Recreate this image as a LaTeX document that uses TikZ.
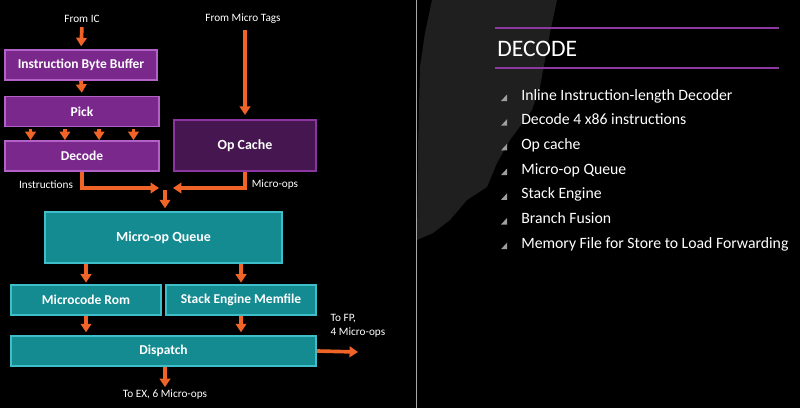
\documentclass[tikz,border=0pt]{standalone}
\usepackage{fontspec}
\setmainfont{Carlito}
\usetikzlibrary{arrows.meta,positioning,calc}
\definecolor{pfill}{RGB}{122,40,140}
\definecolor{pline}{RGB}{178,98,198}
\definecolor{cfill}{RGB}{70,22,80}
\definecolor{cline}{RGB}{140,52,160}
\definecolor{tfill}{RGB}{20,138,145}
\definecolor{tline}{RGB}{62,190,200}
\definecolor{amdorange}{RGB}{240,100,40}
\definecolor{swoosh}{RGB}{31,31,31}
\definecolor{rule}{RGB}{140,56,158}

\begin{document}
\begin{tikzpicture}[
		x=0.025cm, y=-0.025cm,
		>={Triangle[width=7.5pt,length=6pt]},
		box/.style={draw, line width=1.3pt, text=white, inner sep=0pt,
			font=\bfseries\fontsize{9.6}{11}\selectfont},
		pbox/.style={box, fill=pfill, draw=pline, minimum width=3.85cm, minimum height=0.75cm},
		cbox/.style={box, fill=cfill, draw=cline, font=\bfseries\fontsize{9.9}{12}\selectfont},
		tbox/.style={box, fill=tfill, draw=tline, minimum height=0.75cm},
		lbl/.style={text=white, inner sep=1pt, font=\fontsize{8}{9.5}\selectfont},
		arr/.style={->, draw=amdorange, line width=2.6pt},
		item/.style={text=white, anchor=base west, inner sep=0pt, font=\fontsize{11.2}{13}\selectfont}
		]
		
		% background
		\fill[black] (0,0) rectangle (800,408);
		\useasboundingbox (0,0) rectangle (800,408);
		\fill[swoosh] (432,0) -- (557,0) -- (550,33) -- (540,87) -- (532,110) -- (510,140)
			-- (497,163) -- (487,187) -- (467,200) -- (450,220) -- (433,233) -- (417,240)
			-- (418,150) -- (420,67) -- (425,33) -- cycle;
		\draw[gray!70, line width=0.7pt] (416,0) -- (416,408);
		
		% -------------------------
		% Front end (purple)
		% -------------------------
		\node[lbl] (fromIC) at (82,19) {From IC};
		\node[lbl] (fromTags) at (243,19) {From Micro Tags};
		
		\node[pbox, minimum width=3.8cm] (IBB) at (81,65) {Instruction Byte Buffer};
		\node[pbox] (Pick) at (82,111.5) {Pick};
		\node[pbox] (Decode) at (82,156) {Decode};
		\node[cbox, minimum width=3.55cm, minimum height=1.275cm] (OpCache) at (245,145.5) {Op Cache};
		
		\node[lbl] (instr) at (46,185) {Instructions};
		\node[lbl] (uops) at (275,185) {Micro-ops};
		\coordinate (merge) at (165,188);
		
		% -------------------------
		% Back end (teal)
		% -------------------------
		\node[tbox, minimum width=5.925cm, minimum height=1.275cm,
			font=\bfseries\fontsize{9.9}{12}\selectfont] (Queue) at (163.5,237.5) {Micro-op Queue};
		\node[tbox, minimum width=3.75cm] (MRom) at (86,300) {Microcode Rom};
		\node[tbox, minimum width=3.75cm] (SEM) at (241,300) {Stack Engine Memfile};
		\node[tbox, minimum width=7.625cm] (Dispatch) at (163.5,351) {Dispatch};
		
		\node[lbl] (toEX) at (165,395) {To EX, 6 Micro-ops};
		\node[lbl, align=left, anchor=north west] (toFP) at (329,313) {To FP,\\4 Micro-ops};
		\coordinate (fpEnd) at (358,352);
		
		% -------------------------
		% Arrows
		% -------------------------
		\draw[arr, shorten <=2pt, shorten >=2pt] (fromIC.south) -- (IBB.north);
		\draw[arr, shorten >=2pt] (IBB.south) -- (Pick.north);
		\foreach \f in {0.17,0.39,0.61,0.83}
			\draw[arr, shorten <=1pt] ($(Pick.south west)!\f!(Pick.south east)$) -- ($(Decode.north west)!\f!(Decode.north east)$);
		\draw[arr, shorten <=3pt, shorten >=3pt] (fromTags.south -| OpCache) -- (OpCache.north);
		
		\draw[arr] (Decode.south) |- ([xshift=-0.15cm]merge);
		\draw[arr] (OpCache.south) |- ([xshift=0.2cm]merge);
		\draw[arr, shorten >=2pt] ([yshift=-0.05cm]merge) -- (Queue.north -| merge);
		
		\draw[arr, shorten >=1pt] (Queue.south -| MRom) -- (MRom.north);
		\draw[arr, shorten >=1pt] (Queue.south -| SEM) -- (SEM.north);
		\draw[arr, shorten >=2pt] (MRom.south) -- (Dispatch.north -| MRom);
		\draw[arr, shorten >=2pt] (SEM.south) -- (Dispatch.north -| SEM);
		\draw[arr, shorten >=1pt] (Dispatch.south -| toEX) -- (toEX.north);
		\draw[arr] (Dispatch.east) -- (fpEnd);
		
		% -------------------------
		% Feature list
		% -------------------------
		\draw[rule, line width=1.5pt] (495,28) -- (779,28);
		\draw[rule, line width=1.5pt] (495,68) -- (779,68);
		\node[item, font=\fontsize{16.8}{20}\selectfont] (title) at (497,56.5) {DECODE};
		
		\foreach \txt [count=\i] in {Inline Instruction-length Decoder, Decode 4 x86 instructions,
			Op cache, Micro-op Queue, Stack Engine, Branch Fusion,
			Memory File for Store to Load Forwarding} {
			\node[item] (item\i) at (521,{100+(\i-1)*24.7}) {\txt};
			\fill[gray!75] ($(item\i.base west)+(-20,1)$) -- ($(item\i.base west)+(-14,1)$)
				-- ($(item\i.base west)+(-14,-5.5)$) -- cycle;
		}
		
	\end{tikzpicture}
\end{document}
